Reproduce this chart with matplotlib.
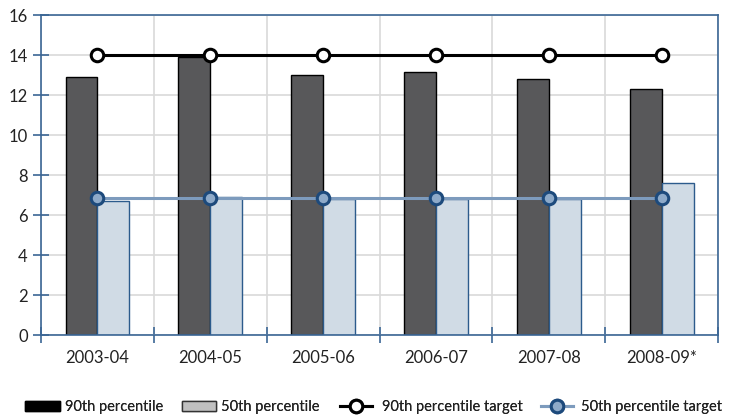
import matplotlib
matplotlib.use("Agg")
import matplotlib.pyplot as plt
import numpy as np
from matplotlib.lines import Line2D
from matplotlib.patches import Patch

plt.rcParams['font.family'] = ['Lato', 'DejaVu Sans']

years = ["2003-04", "2004-05", "2005-06", "2006-07", "2007-08", "2008-09*"]
p90 = [12.9, 13.9, 13.0, 13.15, 12.8, 12.3]
p50 = [6.7, 6.9, 6.8, 6.8, 6.8, 7.6]
target90 = [14, 14, 14, 14, 14, 14]
target50 = [6.85, 6.85, 6.85, 6.85, 6.85, 6.85]
y_ticks = [0, 2, 4, 6, 8, 10, 12, 14, 16]

axis_blue = "#3b6695"
dark_fill = "#58585a"
light_fill = "#d0dbe5"
light_edge = "#2c5b8c"
t50_line = "#7d9bbd"
t50_face = "#8eaac9"
t50_edge = "#1d4a7c"
text_col = "#222222"

W, H = 738, 417
fig = plt.figure(figsize=(W / 100, H / 100), dpi=100)
ax = fig.add_axes([0.0556, 0.1966, 0.9174, 0.767])

x = np.arange(len(years))
w = 0.283
ax.bar(x - w / 2, p90, width=w, color=dark_fill, edgecolor="black", linewidth=1.0, zorder=2)
ax.bar(x + w / 2, p50, width=w, color=light_fill, edgecolor=light_edge, linewidth=1.0, zorder=2)

ax.plot(x, target90, color="black", linewidth=2.2, marker="o", markersize=9,
        markerfacecolor="white", markeredgecolor="black", markeredgewidth=2.2, zorder=4)
ax.plot(x, target50, color=t50_line, linewidth=2.2, marker="o", markersize=9,
        markerfacecolor=t50_face, markeredgecolor=t50_edge, markeredgewidth=2.2, zorder=4)

ax.set_xlim(-0.5, len(years) - 0.5)
ax.set_ylim(0, 16)
ax.set_yticks(y_ticks)
ax.set_yticklabels([str(v) for v in y_ticks], fontsize=12, color=text_col)

# category boundaries carry the ticks and vertical grid; labels sit at centres
ax.set_xticks(np.arange(-0.5, len(years), 1.0))
ax.set_xticklabels([])
ax.set_xticks(x, minor=True)
ax.set_xticklabels(years, minor=True, fontsize=12, color=text_col)
ax.tick_params(axis="x", which="minor", length=0, pad=11)
ax.tick_params(axis="x", which="major", direction="inout", length=11, width=1.2, color=axis_blue)
ax.tick_params(axis="y", direction="inout", length=11, width=1.2, color=axis_blue, pad=4)

ax.grid(True, which="major", color="#d9d9d9", linewidth=1.2, zorder=0)
ax.set_axisbelow(True)
for s in ax.spines.values():
    s.set_color(axis_blue)
    s.set_linewidth(1.2)

# legend entries laid out one by one along the bottom edge
entries = [
    (Patch(facecolor="black", edgecolor="black"), "90th percentile", 25, 2.4, 0.35),
    (Patch(facecolor="#c0c0c0", edgecolor="#333333"), "50th percentile", 182, 2.3, 0.35),
    (Line2D([], [], color="black", linewidth=2.2, marker="o", markersize=9,
            markerfacecolor="white", markeredgecolor="black", markeredgewidth=2.2),
     "90th percentile target", 340, 2.2, 0.65),
    (Line2D([], [], color=t50_line, linewidth=2.2, marker="o", markersize=9,
            markerfacecolor=t50_face, markeredgecolor=t50_edge, markeredgewidth=2.2),
     "50th percentile target", 541, 2.2, 0.55),
]
for handle, label, x0, hl, tp in entries:
    leg = fig.legend([handle], [label], loc="center left",
                     bbox_to_anchor=(x0 / W, (H - 407) / H), frameon=False,
                     fontsize=10.5, handlelength=hl, handleheight=0.65,
                     handletextpad=tp, borderpad=0, borderaxespad=0,
                     labelcolor=text_col)
    fig.add_artist(leg)

fig.savefig("out.png", dpi=100)
